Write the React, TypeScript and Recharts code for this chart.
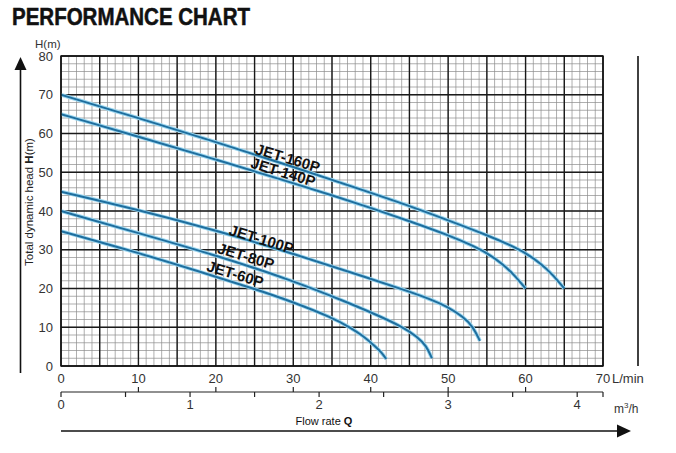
import React from 'react';
import { LineChart, Line, XAxis, YAxis, CartesianGrid } from 'recharts';

// flow rate in L/min, head in m
const jet160Q = [0, 10, 20, 30, 40, 45, 50, 55, 58, 60, 62, 63.5, 65];
const jet160H = [70, 64, 57.8, 51.4, 44.7, 41.3, 37.6, 33.8, 31.2, 29.2, 26.4, 23.6, 20];
const jet140Q = [0, 10, 20, 30, 36, 40, 45, 50, 53, 55, 57, 58.5, 60];
const jet140H = [65, 59.2, 53.3, 47.2, 43.4, 40.8, 37.4, 33.8, 31.2, 29.2, 26.4, 23.6, 20];
const jet100Q = [0, 10, 20, 30, 40, 45, 48, 50, 52, 53.2, 54.1];
const jet100H = [45, 40.3, 35, 29, 22.5, 19.2, 17, 15.2, 12.6, 10.2, 6.5];
const jet80Q = [0, 10, 20, 30, 37, 41, 44, 46, 47.2, 47.9];
const jet80H = [40, 34.3, 28.6, 22, 16.4, 13, 10.2, 7.6, 5.2, 2];
const jet60Q = [0, 10, 18, 25, 30, 35, 37.3, 39, 40.5, 41.4, 42];
const jet60H = [34.8, 29.2, 24.3, 19.9, 16.5, 12.5, 10, 7.8, 5.2, 3.5, 1.8];

const seriesNames = ['JET-160P', 'JET-140P', 'JET-100P', 'JET-80P', 'JET-60P'];
const seriesQ = [jet160Q, jet140Q, jet100Q, jet80Q, jet60Q];
const seriesH = [jet160H, jet140H, jet100H, jet80H, jet60H];
// label centres in data units (q, h)
const labelQ = [29.3, 28.7, 25.9, 23.9, 22.5];
const labelH = [53.7, 50.1, 32.8, 28.4, 23.8];

const lminTicks = [0, 10, 20, 30, 40, 50, 60, 70];
const headTicks = [0, 10, 20, 30, 40, 50, 60, 70, 80];
const m3hTicks = [0, 0.5, 1, 1.5, 2, 2.5, 3, 3.5, 4];

const minorX = Array.from({ length: 71 }, (_, i) => i);
const minorY = Array.from({ length: 41 }, (_, i) => i * 2);
const majorX = Array.from({ length: 15 }, (_, i) => i * 5);

const toLmin = (m: number) => Math.round(((m * 1000) / 60) * 1000) / 1000;
const bottomTicks = Array.from(new Set([...lminTicks, ...m3hTicks.map(toLmin)])).sort((a, b) => a - b);

const FONT = '"Liberation Sans", Arial, sans-serif';
const W = 676, H = 453;
const left = 61, right = 603, top = 56, bottom = 366;
const px = (q: number) => left + (q * (right - left)) / 70;
const py = (h: number) => bottom - (h * (bottom - top)) / 80;

function M3Tick(props: any) {
  const { x, y, payload } = props;
  const v = payload.value;
  const m3 = (v * 60) / 1000;
  const half = Math.abs(m3 * 2 - Math.round(m3 * 2)) < 1e-3 && m3 <= 4.001;
  const whole = half && Math.abs(m3 - Math.round(m3)) < 1e-3;
  const isL = lminTicks.includes(v) && v > 0 && v < 70;
  return (
    <g>
      {isL && <line x1={x} x2={x} y1={y - 5} y2={y} stroke="#222" strokeWidth={1.2} />}
      {(half || v === 70) && <line x1={x} x2={x} y1={y} y2={y + 5} stroke="#222" strokeWidth={1.2} />}
      {whole && (
        <text x={x} y={y + 17} textAnchor="middle" fill="#333" fontSize={13} fontFamily={FONT}>
          {Math.round(m3)}
        </text>
      )}
    </g>
  );
}

export default function App() {
  return (
    <div style={{ position: 'absolute', left: 0, top: 0, width: W, height: H, background: '#fff' }}>
      <LineChart width={W} height={H} margin={{ top, right: W - right, bottom: 31, left: 21 }} style={{ fontFamily: FONT }}>
        <XAxis xAxisId="minorX" type="number" dataKey="q" domain={[0, 70]} ticks={minorX} interval={0} allowDataOverflow hide />
        <YAxis yAxisId="minorY" type="number" domain={[0, 80]} ticks={minorY} interval={0} allowDataOverflow hide />
        <XAxis xAxisId="majorX" type="number" dataKey="q" domain={[0, 70]} ticks={majorX} interval={0} allowDataOverflow hide />
        <YAxis yAxisId="majorY" type="number" domain={[0, 80]} ticks={headTicks} interval={0} allowDataOverflow hide />
        <CartesianGrid xAxisId="minorX" yAxisId="minorY" stroke="#8c8c8c" strokeWidth={0.7} />
        <CartesianGrid xAxisId="majorX" yAxisId="majorY" stroke="#1a1a1a" strokeWidth={1.4} />
        <XAxis
          type="number" dataKey="q" domain={[0, 70]} ticks={lminTicks} interval={0} allowDataOverflow
          tickLine={false} axisLine={false} height={26}
          tick={{ fill: '#333', fontSize: 13, fontFamily: FONT }}
        />
        <XAxis
          xAxisId="m3" type="number" dataKey="q" domain={[0, 70]} ticks={bottomTicks} interval={0} allowDataOverflow
          tickLine={false} tickSize={0} tickMargin={0} height={30}
          axisLine={{ stroke: '#222', strokeWidth: 1.2 }} tick={<M3Tick />}
        />
        <YAxis
          type="number" domain={[0, 80]} ticks={headTicks} interval={0} allowDataOverflow
          tickLine={false} axisLine={false} width={40}
          tick={{ fill: '#333', fontSize: 13, fontFamily: FONT }}
        />
        {seriesNames.map((name, i) => {
          const data = seriesQ[i].map((q, j) => ({ q, h: seriesH[i][j] }));
          return [
            <Line key={name + '-halo'} data={data} dataKey="h" type="basis" stroke="#9bd6ef" strokeWidth={3.8} dot={false} activeDot={false} isAnimationActive={false} />,
            <Line key={name} data={data} dataKey="h" name={name} type="basis" stroke="#1f6e9e" strokeWidth={2} dot={false} activeDot={false} isAnimationActive={false} />,
          ];
        })}
      </LineChart>
      <svg width={W} height={H} style={{ position: 'absolute', left: 0, top: 0, pointerEvents: 'none' }} fontFamily={FONT}>
        <text x={12} y={25} fontSize={23} fontWeight="bold" fill="#111" stroke="#111" strokeWidth={0.5} textLength={238} lengthAdjust="spacingAndGlyphs">
          PERFORMANCE CHART
        </text>
        <text x={35} y={48} fontSize={11.5} fill="#333">H(m)</text>
        <text transform="translate(33,202) rotate(-90)" textAnchor="middle" fontSize={11.5} fill="#222">
          Total dynamic head <tspan fontWeight="bold">H</tspan>(m)
        </text>
        <line x1={20.5} x2={20.5} y1={68} y2={373} stroke="#111" strokeWidth={1.6} />
        <polygon points="20.5,57 14.5,70 26.5,70" fill="#111" />
        <line x1={638} x2={638} y1={56} y2={366} stroke="#111" strokeWidth={1.6} />
        <rect x={left} y={top} width={right - left} height={bottom - top} fill="none" stroke="#111" strokeWidth={1.4} />
        <text x={612} y={383} fontSize={13} fill="#333">L/min</text>
        <text x={614} y={413} fontSize={12} fill="#333">
          m<tspan dy={-5} fontSize={8}>3</tspan><tspan dy={5}>/h</tspan>
        </text>
        <text x={324} y={425} textAnchor="middle" fontSize={11} fill="#111">
          Flow rate <tspan fontWeight="bold">Q</tspan>
        </text>
        <line x1={61} x2={620} y1={431} y2={431} stroke="#111" strokeWidth={1.6} />
        <polygon points="631,431 617,424.5 617,437.5" fill="#111" />
        {seriesNames.map((name, i) => {
          const cx = px(labelQ[i]);
          const cy = py(labelH[i]);
          return (
            <text key={name} x={cx} y={cy} transform={`rotate(17 ${cx} ${cy})`} textAnchor="middle" dominantBaseline="central"
              fontSize={15} fontWeight="bold" fill="#111">
              {name}
            </text>
          );
        })}
      </svg>
    </div>
  );
}
